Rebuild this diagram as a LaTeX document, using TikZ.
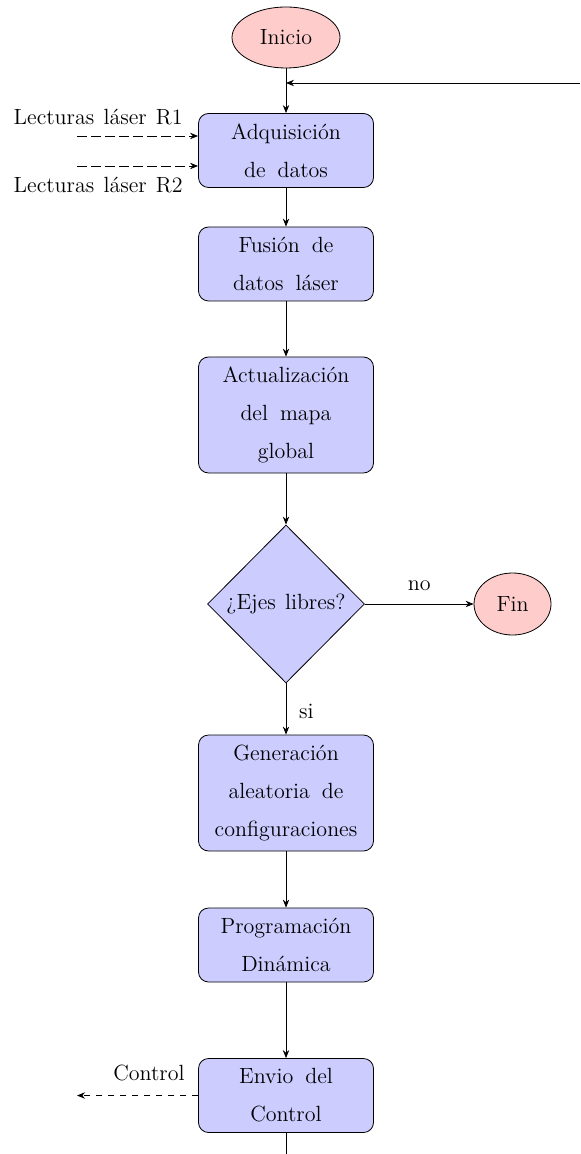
\documentclass[tikz,border=0pt]{standalone}
\usetikzlibrary{shapes.geometric,arrows.meta}
% text settings for labels and for box texts (box texts use wider word gaps)
\newcommand\labelfont{\fontsize{11}{19}\selectfont\spaceskip 4.6pt\relax}
\newcommand\boxfont{\fontsize{11}{19}\selectfont\spaceskip 6pt\relax}
\begin{document}
\begin{tikzpicture}[x=0.5pt,y=-0.5pt,>={Stealth[length=4pt,width=3.2pt]},
  every node/.style={font=\labelfont},
  procbox/.style={draw, rounded corners=5pt, fill=blue!20, align=center,
    font=\boxfont,
    minimum width=87.5pt, minimum height=37pt, inner xsep=3pt, inner ysep=3pt},
  tallbox/.style={procbox, minimum height=58pt},
  terminal/.style={draw, ellipse, fill=red!20, inner sep=0pt},
  decision/.style={draw, diamond, fill=blue!20, inner sep=0pt,
    minimum width=78.5pt, minimum height=79pt},
  flow/.style={->},
  feed/.style={->, dash pattern=on 5pt off 2pt}]
\useasboundingbox (0,0) rectangle (580,1154);

% terminals
\node[terminal, minimum width=54pt, minimum height=30.5pt] (ini) at (286,37.5) {Inicio};
\node[terminal, minimum width=38.5pt, minimum height=31pt] (fin) at (512.5,604) {Fin};

% process steps
\node[procbox] (adq) at (286,150.5) {Adquisición\\de datos};
\node[procbox] (fus) at (286,264) {Fusión de\\datos láser};
\node[tallbox] (act) at (286,415) {Actualización\\del mapa\\global};
\node[decision] (dia) at (286,604) {¿Ejes libres?};
\node[tallbox] (gen) at (286,793) {Generación\\aleatoria de\\configuraciones};
\node[procbox] (prog) at (286,945) {Programación\\Dinámica};
\node[procbox] (env) at (286,1095.5) {Envio del\\Control};

% sensor inputs and control output
\coordinate (r1) at (77,136);
\coordinate (r2) at (77,166);
\coordinate (ctl) at (77,1095.5);
\coordinate (back) at (580,83);
\coordinate (down) at (286,1154);

\node[anchor=base east, inner sep=0pt] (lr1) at (183,125) {Lecturas láser R1};
\node[anchor=base east, inner sep=0pt] (lr2) at (183,193) {Lecturas láser R2};
\node[anchor=base east, inner sep=0pt] (lctl) at (185,1080) {Control};

\draw[feed] (r1) -- (r1 -| adq.west);
\draw[feed] (r2) -- (r2 -| adq.west);
\draw[->, dashed] (env.west) -- (ctl);

% main flow
\draw[flow] (ini) -- (adq);
\draw[flow] (back) -- (back -| ini.south);
\draw[flow] (adq) -- (fus);
\draw[flow] (fus) -- (act);
\draw[flow] (act) -- (dia);
\draw[flow] (dia.east) -- node[above=3pt] (lno) {no} (fin.west);
\draw[flow] (dia) -- node[right=3pt, pos=0.55] (lsi) {si} (gen);
\draw[flow] (gen) -- (prog);
\draw[flow] (prog) -- (env);
\draw (env) -- (down);
\end{tikzpicture}
\end{document}
